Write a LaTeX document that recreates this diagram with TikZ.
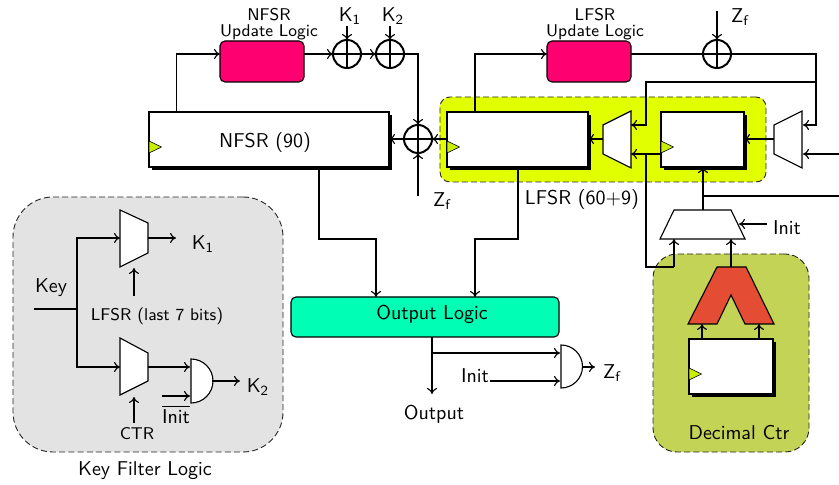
\documentclass[tikz,border=0pt]{standalone}
\usetikzlibrary{shadows,arrows.meta}
\definecolor{limeY}{HTML}{E2FF00}
\definecolor{clkY}{HTML}{C8F000}
\definecolor{pinkL}{HTML}{FF0070}
\definecolor{tealO}{HTML}{00FFB4}
\definecolor{redD}{HTML}{E44D33}
\definecolor{greyK}{HTML}{E3E3E3}
\definecolor{oliveD}{HTML}{C2D356}
\newcommand{\clkmark}[2]{\draw[clkbox] (#1,#2-6) -- (#1+12.5,#2) -- (#1,#2+6) -- cycle;}
\tikzset{
  x=0.5pt,y=-0.5pt,>={Computer Modern Rightarrow[length=3pt,width=5pt]},
  wire/.style={line width=0.56pt},
  every node/.style={font=\sffamily,inner sep=0pt,outer sep=0pt},
  lbl/.style={yshift=-0.75pt},
  smalllbl/.style={font=\sffamily\fontsize{8.5}{10}\selectfont,yshift=-0.75pt},
  panel/.style={draw=black!85,dash pattern=on 3pt off 1.6pt,line width=0.45pt,rounded corners=#1},
  regbox/.style={draw,fill=white,line width=0.56pt,general shadow={fill=black,shadow xshift=1.6pt,shadow yshift=-1.6pt}},
  logicbox/.style={draw,line width=0.56pt,rounded corners=2.5pt},
  clkbox/.style={draw,fill=clkY,line width=0.3pt},
  muxshape/.style={draw,fill=white,line width=0.56pt},
  xorgate/.style={circle,draw,line width=1pt,minimum size=14pt,
    path picture={\draw[line width=0.9pt] (path picture bounding box.north)--(path picture bounding box.south)
      (path picture bounding box.west)--(path picture bounding box.east);}},
}
\begin{document}
\begin{tikzpicture}
\useasboundingbox (0,0) rectangle (839,485);
% panels
\node[panel=20pt,fill=greyK,minimum width=135pt,minimum height=127.5pt] (kfl) at (148,324.5) {};
\node[panel=5pt,fill=limeY,minimum width=163pt,minimum height=42.5pt] (lfsrpanel) at (603,139.5) {};
\node[panel=12pt,fill=oliveD,minimum width=78pt,minimum height=99pt] (decpanel) at (731,353) {};
% boxes
\node[regbox,minimum width=120pt,minimum height=27.5pt] (nfsr) at (269,139.5) {};
\node[lbl] (nfsrt) at (265,141) {NFSR (90)};
\node[regbox,minimum width=70.5pt,minimum height=27.5pt] (lfsra) at (517.5,139.5) {};
\node[regbox,minimum width=41.5pt,minimum height=27.5pt] (lfsrb) at (702.5,139.5) {};
\node[regbox,minimum width=42pt,minimum height=27.5pt] (ctr) at (731,366.5) {};
\clkmark{149}{147}\clkmark{447}{147}\clkmark{661}{147}\clkmark{689}{374}
\node[logicbox,fill=pinkL,minimum width=42pt,minimum height=20.5pt] (nup) at (262,61.5) {};
\node[logicbox,fill=pinkL,minimum width=42pt,minimum height=20.5pt] (lup) at (589,61.5) {};
\node[logicbox,fill=tealO,minimum width=134pt,minimum height=20pt] (outl) at (425,317) {};
\node[lbl] (outlt) at (432,313) {Output Logic};
% xors
\node[xorgate] (x1) at (347,54) {};
\node[xorgate] (x2) at (390,54) {};
\node[xorgate] (x3) at (418,139) {};
\node[xorgate] (x4) at (717,54) {};
% muxes
\draw[muxshape] (603,125) -- (631,111) -- (631,168) -- (603,154) -- cycle;
\draw[muxshape] (774,125) -- (802,111) -- (802,168) -- (774,154) -- cycle;
\draw[muxshape] (674,210) -- (731,210) -- (745,239) -- (660,239) -- cycle;
\draw[muxshape] (120,210) -- (148,223) -- (148,253) -- (120,267) -- cycle;
\draw[muxshape] (120,338) -- (148,353) -- (148,381) -- (120,395) -- cycle;
\draw[muxshape,fill=redD] (717,267) -- (746,267) -- (774,324) -- (745,324) -- (731,295) -- (717,324) -- (688,324) -- cycle;
% and gates
\draw[muxshape] (191,359) -- (191,403) arc[start angle=-90,end angle=90,radius=11pt] -- cycle;
\draw[muxshape] (561,345) -- (561,388) arc[start angle=-90,end angle=90,radius=10.75pt] -- cycle;
% port coordinates
\coordinate (m1in1) at (631,125); \coordinate (m1in2) at (631,154); \coordinate (m1out) at (603,139);
\coordinate (m2in1) at (803,125); \coordinate (m2in2) at (803,154); \coordinate (m2out) at (774,139);
\coordinate (m3in1) at (674,239); \coordinate (m3in2) at (731,239); \coordinate (m3sel) at (739,224); \coordinate (m3out) at (703,210);
\coordinate (m4in) at (120,238); \coordinate (m4out) at (148,238); \coordinate (m4sel) at (134,268);
\coordinate (m5in) at (120,367); \coordinate (m5out) at (148,367); \coordinate (m5sel) at (134,397);
\coordinate (a1a) at (190,367); \coordinate (a1b) at (190,396); \coordinate (a1o) at (212,381);
\coordinate (a2a) at (560,353); \coordinate (a2b) at (560,381); \coordinate (a2o) at (582,367);
\coordinate (redtop) at (731,267); \coordinate (redl) at (702,324); \coordinate (redr) at (759,324);
% texts
\node[smalllbl] (nupa) at (269,13) {NFSR};
\node[smalllbl] (nupb) at (269,31) {Update Logic};
\node[smalllbl] (lupa) at (595,13) {LFSR};
\node[smalllbl] (lupb) at (595,31) {Update Logic};
\node[lbl] (k1t) at (350,15) {K\textsubscript{1}};
\node[lbl] (k2t) at (393,15) {K\textsubscript{2}};
\node[lbl] (zft) at (740,16) {Z\textsubscript{f}};
\node[lbl] (zfb) at (442,200) {Z\textsubscript{f}};
\node[lbl] (lfsrl) at (582,198) {LFSR (60$+$9)};
\node[lbl] (initr) at (787,226) {Init};
\node[lbl] (decl) at (739,431) {Decimal Ctr};
\node[lbl] (outp) at (434,413) {Output};
\node[lbl] (initb) at (475,374) {Init};
\node[lbl] (zfo) at (612,372) {Z\textsubscript{f}};
\node[lbl] (key) at (51,286) {Key};
\node[lbl] (k1o) at (203,243) {K\textsubscript{1}};
\node[lbl] (k2o) at (258,386) {K\textsubscript{2}};
\node[smalllbl] (lastb) at (157,315) {LFSR (last 7 bits)};
\node[smalllbl] (ctrt) at (137,432) {CTR};
\node[lbl] (ninit) at (176,413) {$\overline{\mbox{Init}}$};
\node[lbl] (kfllbl) at (145,469) {Key Filter Logic};
% free ends and bends
\coordinate (zfa) at (717,11); \coordinate (zfc) at (418,196);
\coordinate (edgeA) at (839,154); \coordinate (edgeB) at (839,196);
\coordinate (j1) at (816,54); \coordinate (j2) at (816,82); \coordinate (j3) at (816,125);
\coordinate (j4) at (646,82); \coordinate (j5) at (646,125);
\coordinate (j6) at (646,154); \coordinate (j7) at (646,267); \coordinate (j8) at (674,267);
\coordinate (j9) at (703,196);
\coordinate (n1) at (176.7,54); \coordinate (n2) at (475,54);
\coordinate (n3) at (319,239); \coordinate (n4) at (376,239);
\coordinate (n5) at (518,239); \coordinate (n6) at (475,239);
\coordinate (n7) at (418,54);
\coordinate (o1) at (432,353); \coordinate (o2) at (432,394);
\coordinate (ib) at (490,381);
\coordinate (keyin) at (34,309); \coordinate (keyj) at (77,309); \coordinate (ku) at (77,238); \coordinate (kd) at (77,367);
\coordinate (a1e) at (162,396);
\coordinate (a2t) at (595,367); \coordinate (a1t) at (240,381); \coordinate (m4t) at (176,238);
\coordinate (initt) at (767,224);
\coordinate (lastu) at (134,296); \coordinate (ctru) at (134,423);
\coordinate (clkb) at (661,154);
\begin{scope}[wire]
% NFSR side
\draw[->] (nfsr.north -| n1) -- (n1) -- (nup.west |- n1);
\draw[->] (nup.east |- x1) -- (x1.west);
\draw[->] (x1.east) -- (x2.west);
\draw[->] (x2.east) -- (n7) -- (x3.north);
\draw[->] (x3.west) -- (nfsr.east |- x3);
\draw[->] (lfsra.west |- x3) -- (x3.east);
\draw[->] (zfc) -- (x3.south);
\draw[->] (x1 |- 0,26) -- (x1.north);
\draw[->] (x2 |- 0,26) -- (x2.north);
% LFSR side
\draw[->] (lfsra.north -| n2) -- (n2) -- (lup.west |- n2);
\draw (lup.east |- x4) -- (x4.west);
\draw[->] (zfa) -- (x4.north);
\draw[->] (x4.east) -- (j1) -- (j3) -- (m2in1);
\draw[->] (j2) -- (j4) -- (j5) -- (m1in1);
\draw[->] (clkb) -- (m1in2);
\draw (j6) -- (j7) -- (j8);
\draw[->] (j8) -- (m3in1);
\draw[->] (m1out) -- (lfsra.east |- m1out);
\draw[->] (m2out) -- (lfsrb.east |- m2out);
\draw[->] (edgeA) -- (m2in2);
\draw[->] (m3out) -- (lfsrb.south -| m3out);
\draw (j9) -- (edgeB);
\draw[->] (initt) -- (m3sel);
\draw[->] (redtop) -- (m3in2);
\draw[->] (ctr.north -| redl) -- (redl);
\draw[->] (ctr.north -| redr) -- (redr);
% to output logic
\draw[->] (nfsr.south -| n3) -- (n3) -- (n4) -- (outl.north -| n4);
\draw[->] (lfsra.south -| n5) -- (n5) -- (n6) -- (outl.north -| n6);
\draw[->] (outl.south -| o1) -- (o2);
\draw[->] (o1) -- (a2a);
\draw[->] (ib) -- (a2b);
\draw[->] (a2o) -- (a2t);
% key filter
\draw (keyin) -- (keyj);
\draw[->] (keyj) -- (ku) -- (m4in);
\draw[->] (keyj) -- (kd) -- (m5in);
\draw[->] (m4out) -- (m4t);
\draw[->] (lastu) -- (m4sel);
\draw[->] (ctru) -- (m5sel);
\draw[->] (m5out) -- (a1a);
\draw[->] (a1e) -- (a1b);
\draw[->] (a1o) -- (a1t);
\end{scope}
\end{tikzpicture}
\end{document}
